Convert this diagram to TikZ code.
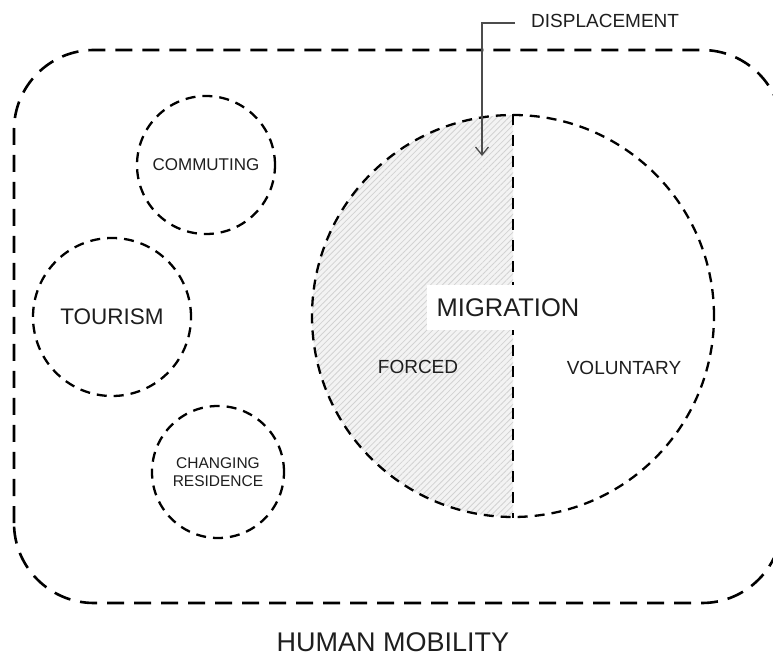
\documentclass[tikz,border=0pt]{standalone}
\usepackage{fontspec}
\setmainfont{Liberation Sans}
\usetikzlibrary{arrows.meta,patterns.meta}
\definecolor{ink}{HTML}{1E1E1E}
\definecolor{hatchbg}{HTML}{F3F3F3}
\definecolor{hatchln}{HTML}{D2D2D2}
\begin{document}
\begin{tikzpicture}[x=1pt,y=1pt,
  outerbox/.style={draw=black, line width=2.6pt, dash pattern=on 17pt off 10pt, rounded corners=80pt},
  bubble/.style={circle, draw=black, line width=2.3pt, dash pattern=on 10pt off 7pt, inner sep=0pt, text=ink, align=center},
  divider/.style={draw=black, line width=2.3pt, dash pattern=on 11pt off 10pt},
  lbl/.style={text=ink, inner sep=0pt},
  pointer/.style={draw=black!70, line width=1.3pt, -{Straight Barb[length=8pt,width=13pt]}}
]
\useasboundingbox (0,0) rectangle (773,656);
\fill[white] (0,0) rectangle (773,656);

\begin{scope}
  \clip (0,0) rectangle (773,656);
  % human mobility frame (runs past the right edge)
  \draw[outerbox] (14,53) rectangle (782,606);

  % migration: forced half is hatched
  \fill[hatchbg] (513,541) arc[start angle=90, end angle=270, radius=201] -- cycle;
  \fill[pattern={Lines[angle=45,distance=4.2pt,line width=0.8pt]}, pattern color=hatchln]
    (513,541) arc[start angle=90, end angle=270, radius=201] -- cycle;
  \node[bubble, minimum size=402pt] (mig) at (513,340) {};
  \draw[divider] (mig.north) -- (mig.south);
\end{scope}

% smaller forms of mobility
\node[bubble, minimum size=138pt, font=\fontsize{17}{20}\selectfont] (commute) at (206,491) {COMMUTING};
\node[bubble, minimum size=158pt, font=\fontsize{22.5}{26}\selectfont] (tour) at (112,339) {TOURISM};
\node[bubble, minimum size=132pt, font=\fontsize{15.5}{18}\selectfont] (resid) at (218,184) {CHANGING\\RESIDENCE};

% labels inside the migration circle
\node[lbl, fill=white, minimum width=163pt, minimum height=45pt, font=\fontsize{25.5}{30}\selectfont] (miglbl) at (508,348) {MIGRATION};
\node[lbl, font=\fontsize{19}{22}\selectfont] (forced) at (418,289) {FORCED};
\node[lbl, font=\fontsize{19}{22}\selectfont] (volun) at (624,288) {VOLUNTARY};

% displacement callout
\node[lbl, anchor=west, font=\fontsize{19}{22}\selectfont] (disp) at (531,635) {DISPLACEMENT};
\coordinate (disptip) at (482,500);
\draw[pointer] ([xshift=-16pt,yshift=-2pt]disp.west) -| (disptip);

% overall caption
\node[lbl, font=\fontsize{27}{32}\selectfont] (title) at (393,14) {HUMAN MOBILITY};
\end{tikzpicture}
\end{document}
